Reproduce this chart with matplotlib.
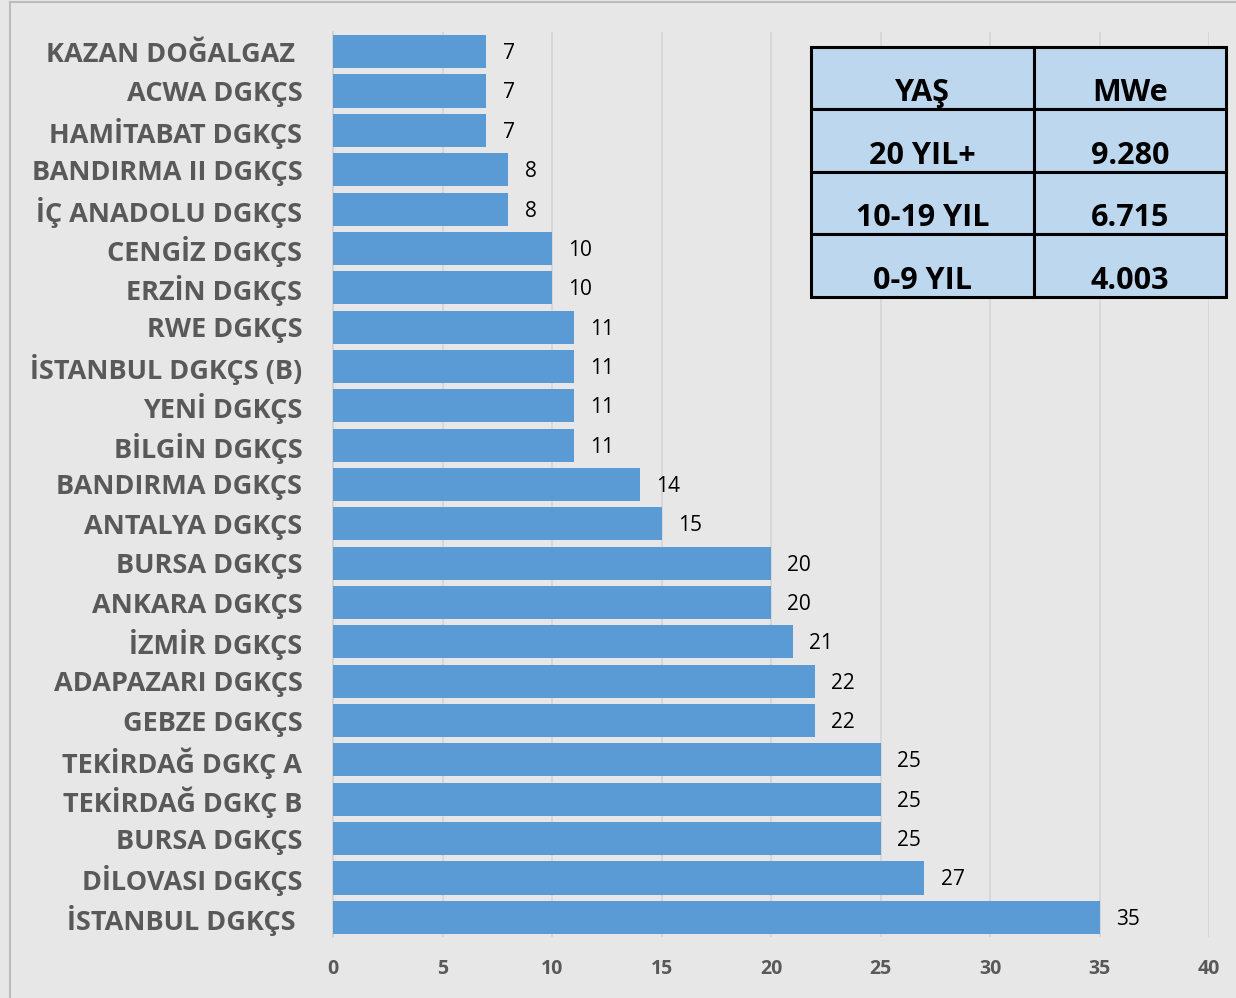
import matplotlib.pyplot as plt
from matplotlib.lines import Line2D

# santral adlari (ustten asagiya) ve yaslari
plants = ['KAZAN DOĞALGAZ ', 'ACWA DGKÇS', 'HAMİTABAT DGKÇS', 'BANDIRMA II DGKÇS',
          'İÇ ANADOLU DGKÇS', 'CENGİZ DGKÇS', 'ERZİN DGKÇS', 'RWE DGKÇS',
          'İSTANBUL DGKÇS (B)', 'YENİ DGKÇS', 'BİLGİN DGKÇS', 'BANDIRMA DGKÇS',
          'ANTALYA DGKÇS', 'BURSA DGKÇS', 'ANKARA DGKÇS', 'İZMİR DGKÇS',
          'ADAPAZARI DGKÇS', 'GEBZE DGKÇS', 'TEKİRDAĞ DGKÇ A', 'TEKİRDAĞ DGKÇ B',
          'BURSA DGKÇS', 'DİLOVASI DGKÇS', 'İSTANBUL DGKÇS ']
ages = [7, 7, 7, 8, 8, 10, 10, 11, 11, 11, 11, 14, 15, 20, 20, 21, 22, 22, 25, 25, 25, 27, 35]

x_ticks = [0, 5, 10, 15, 20, 25, 30, 35, 40]

table_header = ['YAŞ', 'MWe']
age_groups = ['20 YIL+', '10-19 YIL', '0-9 YIL']
capacity = ['9.280', '6.715', '4.003']

bg = '#e7e7e7'
bar_color = '#5b9bd5'
font = 'Open Sans'

W, H = 1236, 998
fig = plt.figure(figsize=(W / 100, H / 100), dpi=100, facecolor=bg)

ax = fig.add_axes([333 / W, 1 - 937 / H, 876 / W, 905 / H])
ax.set_facecolor(bg)

pos = list(range(len(plants)))
ax.barh(pos, ages, height=0.84, color=bar_color, zorder=3)
ax.set_ylim(len(plants) - 0.5, -0.5)
ax.set_xlim(0, 40)

for p, v in zip(pos, ages):
    ax.text(v + 0.75, p + 0.05, str(v), va='center', ha='left', fontsize=15,
            family=font, color='black')

ax.set_yticks(pos)
ax.set_yticklabels(plants, fontsize=19.5, fontweight='bold', family=font, color='#595959')
ax.set_xticks(x_ticks)
ax.set_xticklabels([str(t) for t in x_ticks], fontsize=14, fontweight='bold',
                   family=font, color='#595959')
ax.tick_params(axis='y', length=0, pad=22)
ax.tick_params(axis='x', length=0, pad=16)

ax.grid(axis='x', color='#d4d4d4', linewidth=1.2, zorder=0)
for s in ['top', 'right', 'bottom']:
    ax.spines[s].set_visible(False)
ax.spines['left'].set_color('#d0d0d0')
ax.spines['left'].set_linewidth(1.2)

# sag ustteki tablo
tax = fig.add_axes([811 / W, 1 - 297 / H, 415 / W, 250 / H])
tax.axis('off')
cells = [table_header] + [[a, c] for a, c in zip(age_groups, capacity)]
tbl = tax.table(cellText=cells, cellLoc='center', bbox=[0, 0, 1, 1],
                colWidths=[223 / 415, 192 / 415])
tbl.auto_set_font_size(False)
for (r, c), cell in tbl.get_celld().items():
    cell.set_facecolor('#bdd7ee')
    cell.set_edgecolor('black')
    cell.set_linewidth(2.2)
    cell.set_text_props(fontsize=22, fontweight='bold', family=font, va='top')

# cerceve
fig.add_artist(Line2D([10 / W, 10 / W], [0, 1 - 2 / H], transform=fig.transFigure,
                      color='#bcbcbc', linewidth=1.5))
fig.add_artist(Line2D([10 / W, 1], [1 - 2 / H, 1 - 2 / H], transform=fig.transFigure,
                      color='#bcbcbc', linewidth=1.5))

plt.savefig('out.png', dpi=100, facecolor=bg)
